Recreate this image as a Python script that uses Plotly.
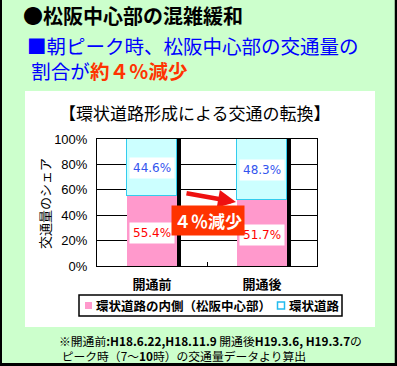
import plotly.graph_objects as go

# ---- data ----
categories = ["開通前", "開通後"]
inner_share = [55.4, 51.7]      # 環状道路の内側（松阪中心部）
ring_share = [44.6, 48.3]       # 環状道路
series_names = ["環状道路の内側（松阪中心部）", "環状道路"]
y_ticks = [0, 20, 40, 60, 80, 100]

# ---- geometry helpers (pixel -> paper) ----
FW, FH = 397, 366
L, R, T, B = 97, 80, 139, 100
PW, PH = FW - L - R, FH - T - B


def X(px):
    return (px - L) / PW


def Y(py):
    return (FH - B - py) / PH


JP = "Noto Sans CJK JP"
PINK = "#FF99CC"
CYAN = "#CCFFFF"
CYAN_LINE = "#33CCEE"
BAR_W = 50 / 110

fig = go.Figure()
fig.add_trace(go.Bar(x=categories, y=inner_share, name=series_names[0],
                     marker=dict(color=PINK, line=dict(width=0)),
                     width=BAR_W, showlegend=False, hoverinfo="skip"))
fig.add_trace(go.Bar(x=categories, y=ring_share, name=series_names[1],
                     marker=dict(color=CYAN, line=dict(color=CYAN_LINE, width=1.5)),
                     width=BAR_W, showlegend=False, hoverinfo="skip"))
# black shadow strip on the right side of each bar (overlay axis)
totals = [a + b for a, b in zip(inner_share, ring_share)]
fig.add_trace(go.Bar(x=categories, y=totals, xaxis="x2", yaxis="y2",
                     marker=dict(color="black", line=dict(width=0)),
                     width=3.5 / 110, offset=BAR_W / 2,
                     showlegend=False, hoverinfo="skip"))

ann = []
# value labels in white boxes
for i, c in enumerate(categories):
    ann.append(dict(x=c, y=inner_share[i] / 2 - 1.5, xref="x", yref="y",
                    text=f"{inner_share[i]:.1f}%", showarrow=False,
                    bgcolor="white", borderpad=3,
                    font=dict(family="DejaVu Sans", size=12, color="#FF0000")))
    ann.append(dict(x=c, y=inner_share[i] + ring_share[i] / 2 - 0.5, xref="x", yref="y",
                    text=f"{ring_share[i]:.1f}%", showarrow=False,
                    bgcolor="white", borderpad=3,
                    font=dict(family="DejaVu Sans", size=12, color="#3355EE")))

# arrow and "４％減少" badge
ann.append(dict(x=X(236), y=Y(202), xref="paper", yref="paper",
                ax=-51, ay=-9, axref="pixel", ayref="pixel",
                showarrow=True, arrowhead=2, arrowsize=0.8, arrowwidth=4.5,
                arrowcolor="#EE1111", text=""))
ann.append(dict(x=X(208), y=Y(220), xref="paper", yref="paper",
                text="４％減少", showarrow=False, bgcolor="#FF3300", borderpad=2,
                font=dict(family=JP, size=17, color="white", weight="bold")))

# titles
ann.append(dict(x=X(21), y=Y(15), xref="paper", yref="paper", xanchor="left",
                yanchor="middle", showarrow=False, text="●松阪中心部の混雑緩和",
                font=dict(family=JP, size=20, color="black", weight="bold")))
ann.append(dict(x=X(25), y=Y(57.5), xref="paper", yref="paper", xanchor="left",
                yanchor="middle", showarrow=False, align="left",
                text="■朝ピーク時、松阪中心部の交通量の<br>&nbsp;割合が"
                     "<span style='color:#FF3300'><b>約４％減少</b></span>",
                font=dict(family=JP, size=19.5, color="#0000FF")))
ann.append(dict(x=X(195), y=Y(112), xref="paper", yref="paper", xanchor="center",
                yanchor="middle", showarrow=False, text="【環状道路形成による交通の転換】",
                font=dict(family=JP, size=17, color="black")))
# y axis title
ann.append(dict(x=X(44), y=Y(204), xref="paper", yref="paper", xanchor="center",
                yanchor="middle", showarrow=False, text="交通量のシェア", textangle=-90,
                font=dict(family=JP, size=13, color="black")))

# manual legend
ann.append(dict(x=X(94), y=Y(305.5), xref="paper", yref="paper", xanchor="left",
                yanchor="middle", showarrow=False, text=series_names[0],
                font=dict(family=JP, size=12.5, color="black", weight="bold")))
ann.append(dict(x=X(287), y=Y(305.5), xref="paper", yref="paper", xanchor="left",
                yanchor="middle", showarrow=False, text=series_names[1],
                font=dict(family=JP, size=12.5, color="black", weight="bold")))

# footnote (two lines in one block)
ann.append(dict(x=X(57), y=Y(347.5), xref="paper", yref="paper", xanchor="left",
                yanchor="middle", showarrow=False, align="left",
                text="※開通前<b>:H18.6.22,H18.11.9</b> 開通後<b>H19.3.6, H19.3.7</b>の"
                     "<br>&nbsp;ピーク時（7～<b>10</b>時）の交通量データより算出",
                font=dict(family=JP, size=11.8, color="black")))

shapes = [
    # white panel
    dict(type="rect", xref="paper", yref="paper", x0=X(25), x1=X(375),
         y0=Y(327), y1=Y(91), fillcolor="white", line=dict(width=0), layer="below"),
    # legend box
    dict(type="rect", xref="paper", yref="paper", x0=X(79), x1=X(342),
         y0=Y(316), y1=Y(295), fillcolor="white", line=dict(color="black", width=1.5)),
    dict(type="rect", xref="paper", yref="paper", x0=X(85), x1=X(92),
         y0=Y(309), y1=Y(302), fillcolor=PINK, line=dict(width=0)),
    dict(type="rect", xref="paper", yref="paper", x0=X(277.5), x1=X(284.5),
         y0=Y(309), y1=Y(302), fillcolor="white", line=dict(color="#22BBEE", width=1.5)),
    # outer dark frame (left, right, bottom)
    dict(type="line", xref="paper", yref="paper", x0=X(1), x1=X(1), y0=Y(0), y1=Y(366),
         line=dict(color="black", width=2)),
    dict(type="line", xref="paper", yref="paper", x0=X(396), x1=X(396), y0=Y(0), y1=Y(366),
         line=dict(color="black", width=2.5)),
    dict(type="line", xref="paper", yref="paper", x0=X(0), x1=X(397), y0=Y(364.5), y1=Y(364.5),
         line=dict(color="black", width=3)),
]

fig.update_layout(
    width=FW, height=FH,
    margin=dict(l=L, r=R, t=T, b=B),
    paper_bgcolor="#CCFFCC", plot_bgcolor="white",
    barmode="stack", bargap=0,
    showlegend=False,
    annotations=ann, shapes=shapes,
    xaxis=dict(type="category", range=[-0.5, 1.5], showline=True, linecolor="black",
               linewidth=1, mirror=True, ticks="inside", tickson="boundaries",
               ticklen=4, tickcolor="black", showgrid=False,
               tickfont=dict(family=JP, size=13, color="black", weight="bold"),
               ticklabelstandoff=6),
    yaxis=dict(range=[0, 100], tickvals=y_ticks, ticktext=[f"{v}%" for v in y_ticks],
               showline=True, linecolor="black", linewidth=1, mirror=True,
               gridcolor="black", gridwidth=1, ticks="", ticklabelstandoff=6,
               tickfont=dict(family="Liberation Sans Narrow, Liberation Sans", size=13,
                             color="black")),
    xaxis2=dict(type="category", range=[-0.5, 1.5], overlaying="x", visible=False,
                matches=None),
    yaxis2=dict(range=[0, 100], overlaying="y", visible=False),
)

fig.write_html("out.html", config={"displayModeBar": False},
               post_script="document.body.style.margin='0';document.body.style.overflow='hidden';")
